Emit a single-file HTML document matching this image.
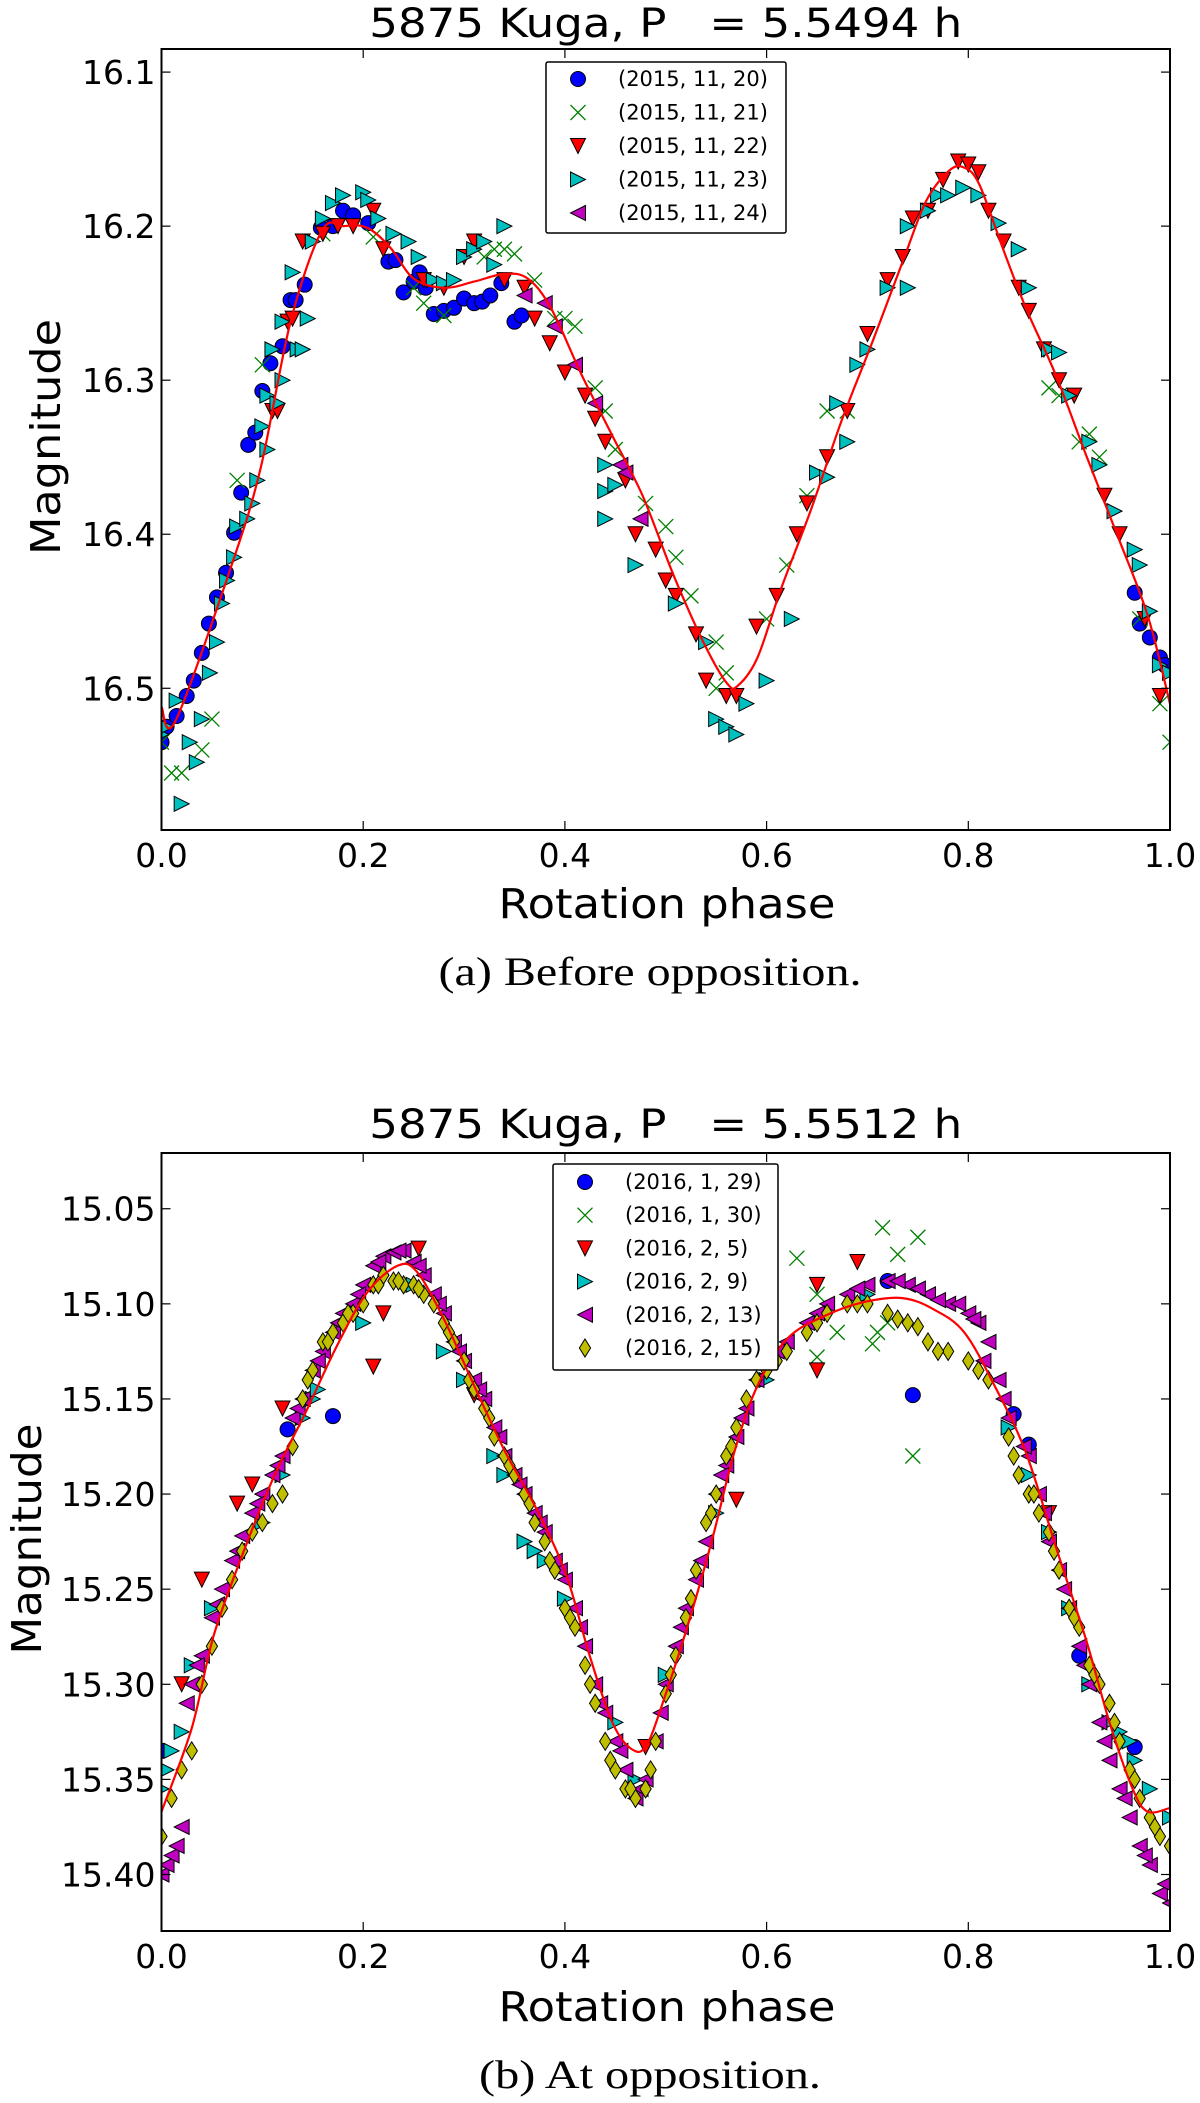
<!DOCTYPE html>
<html><head><meta charset="utf-8"><style>
html,body{margin:0;padding:0;background:#fff;}
svg{display:block;}
text{font-family:"DejaVu Sans","Liberation Sans",sans-serif;fill:#000;}
.cap{font-family:"Liberation Serif","DejaVu Serif",serif;}
</style></head><body>
<svg id="fig" width="1200" height="2103" viewBox="0 0 1200 2103" xmlns="http://www.w3.org/2000/svg"></svg>
<script>
// ---------- Panel A data ----------
const aTitle = "5875 Kuga, P\u00a0\u00a0\u00a0= 5.5494 h";
const aYTicks = [16.1, 16.2, 16.3, 16.4, 16.5];
const aYTickLabels = ["16.1", "16.2", "16.3", "16.4", "16.5"];
const xTicks = [0, 0.2, 0.4, 0.6, 0.8, 1.0];
const xTickLabels = ["0.0", "0.2", "0.4", "0.6", "0.8", "1.0"];
const aFitPhase = [0,0.014,0.068,0.098,0.128,0.159,0.181,0.204,0.227,0.25,0.28,0.31,0.34,0.363,0.386,0.417,0.447,0.477,0.508,0.538,0.561,0.572,0.591,0.614,0.644,0.674,0.705,0.735,0.758,0.781,0.796,0.811,0.834,0.857,0.887,0.917,0.948,0.978,1.0];
const aFitMag = [16.512,16.521,16.423,16.358,16.262,16.203,16.200,16.201,16.214,16.234,16.240,16.236,16.231,16.234,16.253,16.297,16.336,16.375,16.427,16.471,16.497,16.498,16.480,16.436,16.384,16.327,16.275,16.223,16.184,16.164,16.162,16.173,16.214,16.253,16.297,16.349,16.401,16.453,16.510];
const aBlue = [[0,16.535],[0.005,16.525],[0.015,16.518],[0.025,16.505],[0.032,16.495],[0.04,16.477],[0.047,16.458],[0.055,16.441],[0.064,16.425],[0.072,16.399],[0.079,16.373],[0.086,16.342],[0.093,16.334],[0.1,16.307],[0.108,16.289],[0.12,16.278],[0.128,16.248],[0.133,16.248],[0.142,16.238],[0.158,16.201],[0.17,16.2],[0.18,16.19],[0.19,16.193],[0.205,16.198],[0.225,16.223],[0.232,16.222],[0.24,16.243],[0.25,16.236],[0.256,16.23],[0.262,16.24],[0.27,16.257],[0.28,16.255],[0.29,16.253],[0.3,16.247],[0.31,16.25],[0.318,16.249],[0.326,16.245],[0.337,16.237],[0.35,16.262],[0.357,16.258],[0.965,16.438],[0.97,16.458],[0.98,16.467],[0.99,16.48],[0.995,16.485]];
const aGreen = [[0,16.535],[0.01,16.555],[0.02,16.555],[0.04,16.54],[0.05,16.52],[0.075,16.365],[0.1,16.29],[0.16,16.205],[0.21,16.207],[0.25,16.24],[0.26,16.25],[0.28,16.258],[0.32,16.22],[0.33,16.215],[0.34,16.215],[0.35,16.218],[0.37,16.235],[0.39,16.26],[0.4,16.26],[0.41,16.265],[0.43,16.305],[0.44,16.32],[0.45,16.345],[0.48,16.38],[0.5,16.395],[0.51,16.415],[0.525,16.44],[0.55,16.47],[0.55,16.5],[0.56,16.49],[0.6,16.455],[0.62,16.42],[0.64,16.375],[0.66,16.32],[0.68,16.32],[0.88,16.305],[0.89,16.31],[0.91,16.34],[0.92,16.335],[0.93,16.35],[0.97,16.455],[0.99,16.51],[1.0,16.535]];
const aRed = [[0.11,16.32],[0.115,16.32],[0.125,16.262],[0.13,16.26],[0.14,16.21],[0.16,16.205],[0.175,16.2],[0.19,16.2],[0.21,16.19],[0.22,16.215],[0.26,16.235],[0.28,16.24],[0.3,16.22],[0.31,16.21],[0.34,16.235],[0.36,16.24],[0.37,16.26],[0.385,16.276],[0.4,16.295],[0.42,16.31],[0.43,16.325],[0.44,16.34],[0.46,16.365],[0.47,16.4],[0.49,16.41],[0.5,16.43],[0.51,16.44],[0.53,16.465],[0.54,16.495],[0.56,16.505],[0.57,16.505],[0.59,16.46],[0.61,16.44],[0.63,16.4],[0.64,16.38],[0.66,16.35],[0.68,16.32],[0.7,16.27],[0.72,16.235],[0.735,16.22],[0.745,16.195],[0.76,16.19],[0.775,16.17],[0.79,16.158],[0.8,16.16],[0.81,16.165],[0.82,16.19],[0.835,16.21],[0.85,16.24],[0.86,16.255],[0.875,16.28],[0.89,16.3],[0.905,16.31],[0.935,16.375],[0.95,16.4],[0.975,16.455],[0.99,16.505]];
const aCyan = [[0,16.53],[0.005,16.525],[0.015,16.508],[0.02,16.575],[0.028,16.535],[0.035,16.548],[0.04,16.52],[0.048,16.49],[0.055,16.47],[0.06,16.445],[0.065,16.43],[0.072,16.415],[0.075,16.395],[0.085,16.39],[0.09,16.38],[0.095,16.365],[0.105,16.345],[0.1,16.33],[0.105,16.31],[0.115,16.315],[0.12,16.3],[0.11,16.28],[0.12,16.262],[0.135,16.28],[0.14,16.28],[0.145,16.26],[0.13,16.23],[0.15,16.21],[0.16,16.195],[0.17,16.185],[0.18,16.18],[0.2,16.178],[0.205,16.183],[0.215,16.195],[0.23,16.205],[0.245,16.21],[0.255,16.22],[0.27,16.235],[0.28,16.237],[0.29,16.235],[0.3,16.22],[0.31,16.215],[0.32,16.21],[0.34,16.2],[0.33,16.225],[0.44,16.355],[0.44,16.372],[0.45,16.368],[0.44,16.39],[0.47,16.42],[0.51,16.445],[0.54,16.47],[0.55,16.52],[0.56,16.525],[0.57,16.53],[0.58,16.51],[0.6,16.495],[0.625,16.455],[0.65,16.36],[0.66,16.363],[0.67,16.315],[0.68,16.34],[0.69,16.29],[0.7,16.28],[0.72,16.24],[0.74,16.24],[0.74,16.2],[0.76,16.19],[0.77,16.18],[0.78,16.18],[0.795,16.175],[0.81,16.18],[0.83,16.198],[0.85,16.215],[0.86,16.24],[0.88,16.28],[0.89,16.282],[0.9,16.31],[0.92,16.34],[0.93,16.355],[0.945,16.385],[0.965,16.41],[0.97,16.42],[0.98,16.45],[0.99,16.485],[1.0,16.49]];
const aMagenta = [[0.36,16.245],[0.38,16.25],[0.39,16.265],[0.41,16.29],[0.43,16.315],[0.455,16.355],[0.46,16.36],[0.475,16.39]];
const aLegend = ["(2015, 11, 20)","(2015, 11, 21)","(2015, 11, 22)","(2015, 11, 23)","(2015, 11, 24)"];

// ---------- Panel B data ----------
const bTitle = "5875 Kuga, P\u00a0\u00a0\u00a0= 5.5512 h";
const bYTicks = [15.05, 15.10, 15.15, 15.20, 15.25, 15.30, 15.35, 15.40];
const bYTickLabels = ["15.05","15.10","15.15","15.20","15.25","15.30","15.35","15.40"];
const bFitPhase = [0,0.03,0.052,0.083,0.113,0.143,0.174,0.204,0.234,0.253,0.28,0.31,0.341,0.371,0.401,0.424,0.447,0.466,0.481,0.5,0.523,0.546,0.568,0.591,0.621,0.659,0.697,0.735,0.766,0.796,0.826,0.857,0.887,0.917,0.94,0.963,0.978,1.0];
const bFitMag = [15.367,15.323,15.274,15.228,15.189,15.157,15.122,15.094,15.080,15.083,15.108,15.143,15.178,15.207,15.242,15.284,15.320,15.334,15.332,15.305,15.267,15.224,15.178,15.143,15.118,15.106,15.099,15.097,15.103,15.115,15.143,15.178,15.228,15.277,15.320,15.355,15.367,15.365];
const bBlue = [[0,15.335],[0.125,15.166],[0.17,15.159],[0.745,15.148],[0.845,15.158],[0.86,15.174],[0.91,15.285],[0.965,15.333],[0.72,15.088]];
const bGreen = [[0.63,15.076],[0.65,15.095],[0.65,15.128],[0.67,15.115],[0.705,15.121],[0.71,15.115],[0.715,15.06],[0.73,15.074],[0.75,15.065],[0.745,15.18],[0.72,15.11]];
const bRed = [[0.04,15.245],[0.02,15.30],[0.075,15.205],[0.09,15.195],[0.12,15.155],[0.21,15.133],[0.22,15.105],[0.255,15.071],[0.31,15.148],[0.48,15.333],[0.57,15.203],[0.69,15.078],[0.65,15.09],[0.65,15.135],[0.88,15.21]];
const bCyan = [[0,15.355],[0.005,15.345],[0.01,15.335],[0.02,15.325],[0.03,15.29],[0.05,15.26],[0.1,15.215],[0.12,15.19],[0.14,15.16],[0.15,15.15],[0.2,15.11],[0.25,15.09],[0.28,15.125],[0.3,15.14],[0.34,15.19],[0.36,15.225],[0.38,15.235],[0.4,15.255],[0.45,15.32],[0.47,15.35],[0.5,15.295],[0.55,15.21],[0.6,15.14],[0.7,15.095],[0.84,15.165],[0.86,15.19],[0.88,15.22],[0.9,15.26],[0.92,15.3],[0.94,15.32],[0.96,15.33],[0.98,15.355],[1.0,15.37],[0.155,15.145],[0.33,15.18],[0.37,15.23],[0.95,15.325],[0.965,15.34]];
const bMagenta = [[0,15.4],[0.005,15.395],[0.01,15.39],[0.015,15.385],[0.02,15.375],[0.025,15.31],[0.03,15.3],[0.04,15.285],[0.05,15.265],[0.06,15.25],[0.07,15.235],[0.08,15.222],[0.09,15.21],[0.1,15.2],[0.11,15.19],[0.12,15.18],[0.13,15.16],[0.14,15.15],[0.15,15.135],[0.16,15.125],[0.17,15.115],[0.18,15.105],[0.19,15.1],[0.2,15.09],[0.21,15.08],[0.22,15.075],[0.23,15.073],[0.24,15.072],[0.25,15.078],[0.26,15.085],[0.27,15.095],[0.28,15.105],[0.29,15.12],[0.3,15.13],[0.31,15.14],[0.32,15.15],[0.33,15.165],[0.34,15.18],[0.35,15.19],[0.36,15.2],[0.37,15.21],[0.38,15.22],[0.39,15.235],[0.4,15.245],[0.41,15.26],[0.42,15.28],[0.43,15.3],[0.44,15.315],[0.45,15.33],[0.46,15.345],[0.47,15.36],[0.48,15.35],[0.49,15.33],[0.5,15.3],[0.51,15.28],[0.52,15.26],[0.53,15.245],[0.54,15.225],[0.55,15.2],[0.56,15.185],[0.57,15.17],[0.58,15.155],[0.59,15.14],[0.6,15.13],[0.62,15.12],[0.64,15.11],[0.66,15.1],[0.68,15.095],[0.7,15.09],[0.72,15.088],[0.74,15.09],[0.76,15.095],[0.78,15.1],[0.8,15.105],[0.81,15.11],[0.82,15.12],[0.83,15.14],[0.84,15.16],[0.86,15.18],[0.87,15.2],[0.88,15.225],[0.89,15.24],[0.9,15.26],[0.91,15.28],[0.92,15.3],[0.93,15.32],[0.94,15.34],[0.95,15.355],[0.96,15.37],[0.97,15.385],[0.98,15.395],[0.99,15.41],[1.0,15.415],
 [0.035,15.29],[0.055,15.258],[0.075,15.23],[0.095,15.205],[0.115,15.185],[0.135,15.155],[0.155,15.13],[0.175,15.11],[0.195,15.095],[0.215,15.078],[0.235,15.072],[0.255,15.08],[0.275,15.1],[0.295,15.125],[0.315,15.145],[0.335,15.17],[0.355,15.195],[0.375,15.215],[0.395,15.24],[0.415,15.27],[0.435,15.31],[0.455,15.335],[0.475,15.355],[0.495,15.315],[0.515,15.27],[0.535,15.235],[0.555,15.19],[0.575,15.16],[0.61,15.125],[0.65,15.105],[0.69,15.092],[0.73,15.088],[0.75,15.092],[0.77,15.098],[0.79,15.1],[0.805,15.108],[0.815,15.13],[0.835,15.15],[0.855,15.175],[0.875,15.21],[0.895,15.25],[0.915,15.29],[0.935,15.33],[0.955,15.36],[0.975,15.39],[0.995,15.405]];
const bYellow = [[0,15.38],[0.01,15.36],[0.02,15.345],[0.03,15.335],[0.04,15.3],[0.06,15.26],[0.08,15.23],[0.1,15.215],[0.12,15.2],[0.13,15.175],[0.14,15.15],[0.15,15.135],[0.16,15.12],[0.17,15.115],[0.18,15.11],[0.19,15.105],[0.2,15.1],[0.21,15.09],[0.22,15.085],[0.23,15.088],[0.24,15.09],[0.25,15.09],[0.26,15.095],[0.27,15.1],[0.28,15.11],[0.29,15.12],[0.3,15.13],[0.31,15.145],[0.32,15.155],[0.33,15.17],[0.34,15.18],[0.35,15.19],[0.36,15.2],[0.37,15.215],[0.38,15.225],[0.39,15.24],[0.4,15.26],[0.41,15.27],[0.42,15.29],[0.43,15.31],[0.44,15.33],[0.45,15.345],[0.46,15.355],[0.47,15.36],[0.48,15.355],[0.49,15.33],[0.5,15.305],[0.51,15.285],[0.52,15.265],[0.53,15.24],[0.54,15.215],[0.55,15.2],[0.56,15.18],[0.57,15.165],[0.58,15.15],[0.59,15.14],[0.6,15.135],[0.62,15.125],[0.64,15.115],[0.66,15.105],[0.68,15.1],[0.7,15.1],[0.72,15.105],[0.74,15.11],[0.76,15.12],[0.78,15.125],[0.8,15.13],[0.82,15.14],[0.84,15.17],[0.85,15.19],[0.86,15.2],[0.87,15.21],[0.88,15.22],[0.89,15.24],[0.9,15.26],[0.91,15.27],[0.92,15.29],[0.93,15.3],[0.94,15.31],[0.95,15.33],[0.96,15.345],[0.97,15.36],[0.98,15.37],[0.99,15.38],[1.0,15.385],
 [0.05,15.28],[0.07,15.245],[0.09,15.22],[0.11,15.205],[0.145,15.14],[0.165,15.12],[0.185,15.105],[0.215,15.09],[0.235,15.088],[0.255,15.092],[0.285,15.115],[0.305,15.14],[0.325,15.16],[0.345,15.185],[0.365,15.205],[0.385,15.235],[0.405,15.265],[0.425,15.3],[0.445,15.34],[0.465,15.355],[0.485,15.345],[0.505,15.295],[0.525,15.255],[0.545,15.21],[0.565,15.175],[0.61,15.13],[0.65,15.11],[0.69,15.1],[0.73,15.108],[0.75,15.112],[0.77,15.125],[0.81,15.135],[0.845,15.18],[0.865,15.2],[0.885,15.23],[0.905,15.265],[0.925,15.295],[0.945,15.32],[0.965,15.35],[0.985,15.375]];
const bLegend = ["(2016, 1, 29)","(2016, 1, 30)","(2016, 2, 5)","(2016, 2, 9)","(2016, 2, 13)","(2016, 2, 15)"];

const NS = "http://www.w3.org/2000/svg";
const svg = document.getElementById('fig');
function mk(tag, attrs, parent){ const e=document.createElementNS(NS,tag); for(const k in attrs) e.setAttribute(k,attrs[k]); (parent||svg).appendChild(e); return e; }

function marker(g, kind, x, y){
  const s = 7.5;
  let e;
  if(kind==='circle'){ e=mk('circle',{cx:x,cy:y,r:s,fill:'#0000ff',stroke:'#000','stroke-width':1},g); }
  else if(kind==='x'){ e=mk('path',{d:`M${x-s},${y-s}L${x+s},${y+s}M${x-s},${y+s}L${x+s},${y-s}`,stroke:'#008000','stroke-width':1.3,fill:'none'},g); }
  else if(kind==='down'){ e=mk('path',{d:`M${x-s},${y-s}L${x+s},${y-s}L${x},${y+s}Z`,fill:'#ff0000',stroke:'#000','stroke-width':1},g); }
  else if(kind==='right'){ e=mk('path',{d:`M${x-s},${y-s}L${x+s},${y}L${x-s},${y+s}Z`,fill:'#00bfbf',stroke:'#000','stroke-width':1},g); }
  else if(kind==='left'){ e=mk('path',{d:`M${x+s},${y-s}L${x-s},${y}L${x+s},${y+s}Z`,fill:'#bf00bf',stroke:'#000','stroke-width':1},g); }
  else if(kind==='diamond'){ e=mk('path',{d:`M${x},${y-s*1.2}L${x+s*0.75},${y}L${x},${y+s*1.2}L${x-s*0.75},${y}Z`,fill:'#bfbf00',stroke:'#000','stroke-width':1},g); }
  return e;
}

function smoothPath(pts){
  let d = 'M'+pts[0][0].toFixed(1)+','+pts[0][1].toFixed(1);
  for(let i=0;i<pts.length-1;i++){
    const p0=pts[Math.max(0,i-1)], p1=pts[i], p2=pts[i+1], p3=pts[Math.min(pts.length-1,i+2)];
    const c1=[p1[0]+(p2[0]-p0[0])/6, p1[1]+(p2[1]-p0[1])/6];
    const c2=[p2[0]-(p3[0]-p1[0])/6, p2[1]-(p3[1]-p1[1])/6];
    d += 'C'+c1[0].toFixed(1)+','+c1[1].toFixed(1)+' '+c2[0].toFixed(1)+','+c2[1].toFixed(1)+' '+p2[0].toFixed(1)+','+p2[1].toFixed(1);
  }
  return d;
}

function panel(o){
  const g = mk('g',{});
  
  
  const L=161.5,R=1170,T=o.top,B=o.bottom;
  const sx = p => L + p*(R-L);
  const sy = m => T + (m-o.ymin)/(o.ymax-o.ymin)*(B-T);
  const t = mk('text',{x:(L+R)/2, y:o.titleY, 'text-anchor':'middle','font-size':40,textLength:593,lengthAdjust:'spacingAndGlyphs'},g);
  t.textContent = o.title;
  
  
  const cid = o.name+'-clip';
  const cp = mk('clipPath',{id:cid},g); mk('rect',{x:L,y:T,width:R-L,height:B-T},cp);
  const plot = mk('g',{'clip-path':`url(#${cid})`},g);
  
  
  o.series.forEach(s=>{
    const sg = mk('g',{},plot);
    
    
    s.data.forEach(d=>{ const m = marker(sg, s.kind, sx(d[0]), sy(d[1]));
      
       });
  });
  const pts = o.fitP.map((p,i)=>[sx(p), sy(o.fitM[i])]);
  const fl = mk('path',{d:smoothPath(pts),fill:'none',stroke:'#ff0000','stroke-width':2.2,'stroke-linejoin':'round'},plot);
  
  
  const fr = mk('rect',{x:L,y:T,width:R-L,height:B-T,fill:'none',stroke:'#000','stroke-width':2},g);
  
  
  xTicks.forEach((v,i)=>{
    const x=sx(v);
    mk('line',{x1:x,y1:B,x2:x,y2:B-9,stroke:'#000','stroke-width':1.2},g);
    mk('line',{x1:x,y1:T,x2:x,y2:T+9,stroke:'#000','stroke-width':1.2},g);
    const lb = mk('text',{x:x,y:B+37,'text-anchor':'middle','font-size':33},g);
    lb.textContent = xTickLabels[i];
    
    
  });
  o.yTicks.forEach((v,i)=>{
    const y=sy(v);
    mk('line',{x1:L,y1:y,x2:L+9,y2:y,stroke:'#000','stroke-width':1.2},g);
    mk('line',{x1:R,y1:y,x2:R-9,y2:y,stroke:'#000','stroke-width':1.2},g);
    const lb = mk('text',{x:L-6,y:y+12,'text-anchor':'end','font-size':33},g);
    lb.textContent = o.yLabels[i];
    
    
  });
  const xl = mk('text',{x:667,y:o.xlabY,'text-anchor':'middle','font-size':41,textLength:337,lengthAdjust:'spacingAndGlyphs'},g);
  xl.textContent = 'Rotation phase';
  
  
  const yl = mk('text',{x:0,y:0,'text-anchor':'middle','font-size':41,textLength:o.ylabLen,lengthAdjust:'spacingAndGlyphs',transform:`translate(${o.ylabX},${o.ylabY}) rotate(-90)`},g);
  yl.textContent = 'Magnitude';
  
  
  const cap = mk('text',{x:650,y:o.capY,'text-anchor':'middle','font-size':40,'class':'cap',textLength:o.capLen,lengthAdjust:'spacingAndGlyphs'},g);
  cap.textContent = o.caption;
  
  
  const lg = mk('g',{},g);
  
  
  const lgb = o.legendBox;
  mk('rect',{x:lgb[0],y:lgb[1],width:lgb[2],height:lgb[3],fill:'#fff',stroke:'#000','stroke-width':1.5,rx:2},lg);
  o.legend.forEach((txt,i)=>{
    const y = lgb[1] + o.legRow0 + i*o.legStep;
    const m = marker(lg, o.series[i].kind, lgb[0]+32, y);
    
    
    const tt = mk('text',{x:lgb[0]+72,y:y+7,'font-size':21},lg);
    tt.textContent = txt;
    
    
  });
}

panel({name:'panel-a', top:49, bottom:830, ymin:16.085, ymax:16.592, title:aTitle, titleY:37,
  yTicks:aYTicks, yLabels:aYTickLabels, fitP:aFitPhase, fitM:aFitMag,
  series:[{name:'series-2015-11-20',kind:'circle',data:aBlue},{name:'series-2015-11-21',kind:'x',data:aGreen},{name:'series-2015-11-22',kind:'down',data:aRed},{name:'series-2015-11-23',kind:'right',data:aCyan},{name:'series-2015-11-24',kind:'left',data:aMagenta}],
  legend:aLegend, legendBox:[546,62,240,171], legRow0:17, legStep:33.5,
  xlabY:918, ylabX:60, ylabY:437, ylabLen:236, capY:985, caption:'(a) Before opposition.', capLen:423});

panel({name:'panel-b', top:1153, bottom:1931, ymin:15.0207, ymax:15.4297, title:bTitle, titleY:1138,
  yTicks:bYTicks, yLabels:bYTickLabels, fitP:bFitPhase, fitM:bFitMag,
  series:[{name:'series-2016-1-29',kind:'circle',data:bBlue},{name:'series-2016-1-30',kind:'x',data:bGreen},{name:'series-2016-2-5',kind:'down',data:bRed},{name:'series-2016-2-9',kind:'right',data:bCyan},{name:'series-2016-2-13',kind:'left',data:bMagenta},{name:'series-2016-2-15',kind:'diamond',data:bYellow}],
  legend:bLegend, legendBox:[553,1164,225,206], legRow0:18, legStep:33.2,
  xlabY:2021, ylabX:41, ylabY:1539, ylabLen:231, capY:2088, caption:'(b) At opposition.', capLen:342});
</script>
</body></html>
